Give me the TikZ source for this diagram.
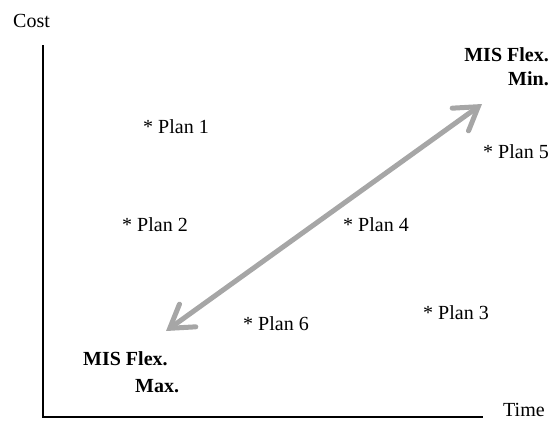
\documentclass[tikz,border=0pt]{standalone}
\usepackage{fontspec}
\setmainfont{Liberation Serif}
\usetikzlibrary{arrows.meta}
\begin{document}
\begin{tikzpicture}[x=1pt,y=-1pt,
  lbl/.style={inner sep=0pt,font=\fontsize{20}{24}\selectfont},
  blbl/.style={lbl,font=\fontsize{20}{24}\selectfont\bfseries},
  axis/.style={line width=1.5pt,black},
  barb/.tip={Straight Barb[length=22pt,width=28pt,line cap=round]},
  bigarrow/.style={line width=5pt,color=arrowgray,{barb}-{barb}}]
\definecolor{arrowgray}{HTML}{A6A6A6}
\useasboundingbox (0,0) rectangle (550,421);
% axes
\coordinate (top) at (43,45);
\coordinate (orig) at (43,417);
\coordinate (right) at (483,417);
\draw[axis] (top) -- (orig) -- (right);
\node[lbl,anchor=west] (cost) at (13,21) {Cost};
\node[lbl,anchor=west] (time) at (503,410) {Time};
% plans
\node[lbl,anchor=west] (p1) at (143,127) {* Plan 1};
\node[lbl,anchor=west] (p2) at (122,225) {* Plan 2};
\node[lbl,anchor=west] (p4) at (343,225) {* Plan 4};
\node[lbl,anchor=west] (p5) at (483,152) {* Plan 5};
\node[lbl,anchor=west] (p3) at (423,313) {* Plan 3};
\node[lbl,anchor=west] (p6) at (243,324) {* Plan 6};
% MIS labels
\node[blbl,anchor=east] (mis1) at (549,55) {MIS Flex.};
\node[blbl,anchor=east] (min) at (549,79) {Min.};
\node[blbl,anchor=west] (mis2) at (83,359) {MIS Flex.};
\node[blbl,anchor=west] (max) at (135,386) {Max.};
% arrow
\coordinate (lo) at (166,331);
\coordinate (hi) at (482,104);
\draw[bigarrow] (lo) -- (hi);
\end{tikzpicture}
\end{document}
